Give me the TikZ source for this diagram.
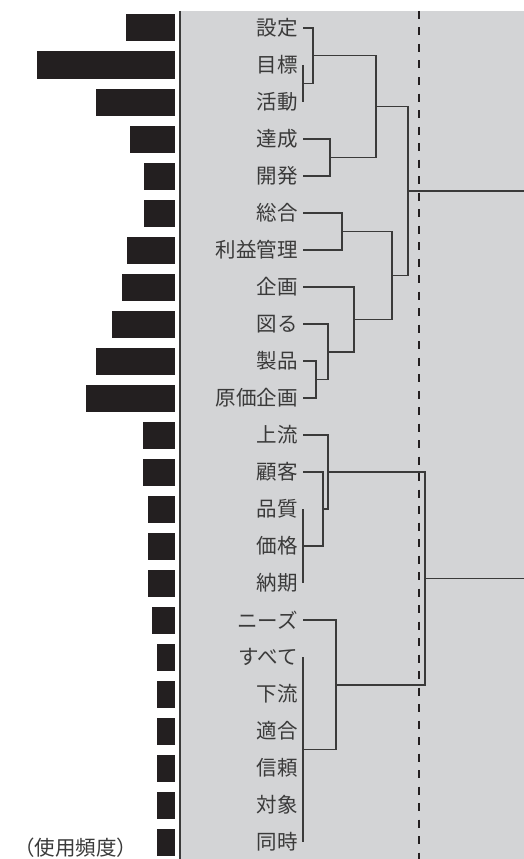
\documentclass[tikz,border=0pt]{standalone}
\usepackage{fontspec}
\setmainfont{Noto Sans CJK JP}
\usepackage{tikz}
\definecolor{panelgray}{RGB}{211,212,214}
\definecolor{inkgray}{RGB}{58,58,58}
\definecolor{barblack}{RGB}{35,31,32}
\tikzstyle{word} = [anchor=east, inner xsep=5pt, inner ysep=0pt, text=inkgray, font=\fontsize{20.5}{24}\selectfont]
\tikzstyle{freqbar} = [anchor=east, inner sep=0pt, minimum height=27pt, fill=barblack]
\tikzstyle{link} = [line width=1.4pt, draw=inkgray]
\tikzstyle{cutline} = [line width=1.8pt, draw=barblack, dash pattern=on 8pt off 8.5pt]

\begin{document}
\begin{tikzpicture}[x=1pt, y=-1pt]
  \useasboundingbox (0,0) rectangle (524,859);
  \fill [panelgray] (180,11) rectangle (524,859);
  \draw [line width=1.5pt, draw=inkgray] (180,11) -- (180,859);
  \draw [cutline] (419,11) -- (419,859);
  % words
  \node (settei) [word] at (303,28) {設定};
  \node (mokuhyo) [word] at (303,65) {目標};
  \node (katsudo) [word] at (303,102) {活動};
  \node (tassei) [word] at (303,139) {達成};
  \node (kaihatsu) [word] at (303,176) {開発};
  \node (sogo) [word] at (303,213) {総合};
  \node (rieki) [word] at (303,250) {利益管理};
  \node (kikaku) [word] at (303,287) {企画};
  \node (hakaru) [word] at (303,324) {図る};
  \node (seihin) [word] at (303,361) {製品};
  \node (genka) [word] at (303,398) {原価企画};
  \node (joryu) [word] at (303,435) {上流};
  \node (kokyaku) [word] at (303,472) {顧客};
  \node (hinshitsu) [word] at (303,509) {品質};
  \node (kakaku) [word] at (303,546) {価格};
  \node (noki) [word] at (303,583) {納期};
  \node (needs) [word] at (303,620) {ニーズ};
  \node (subete) [word] at (303,657) {すべて};
  \node (karyu) [word] at (303,694) {下流};
  \node (tekigo) [word] at (303,731) {適合};
  \node (shinrai) [word] at (303,768) {信頼};
  \node (taisho) [word] at (303,805) {対象};
  \node (doji) [word] at (303,842) {同時};
  \node (freq) [word, anchor=center, inner xsep=0pt] at (75.5,848) {（使用頻度）};
  % frequency bars
  \node (bsettei) [freqbar, minimum width=49pt] at (175,28) {};
  \node (bmokuhyo) [freqbar, minimum width=138pt] at (175,65) {};
  \node (bkatsudo) [freqbar, minimum width=79pt] at (175,102) {};
  \node (btassei) [freqbar, minimum width=45pt] at (175,139) {};
  \node (bkaihatsu) [freqbar, minimum width=31pt] at (175,176) {};
  \node (bsogo) [freqbar, minimum width=31pt] at (175,213) {};
  \node (brieki) [freqbar, minimum width=48pt] at (175,250) {};
  \node (bkikaku) [freqbar, minimum width=53pt] at (175,287) {};
  \node (bhakaru) [freqbar, minimum width=63pt] at (175,324) {};
  \node (bseihin) [freqbar, minimum width=79pt] at (175,361) {};
  \node (bgenka) [freqbar, minimum width=89pt] at (175,398) {};
  \node (bjoryu) [freqbar, minimum width=32pt] at (175,435) {};
  \node (bkokyaku) [freqbar, minimum width=32pt] at (175,472) {};
  \node (bhinshitsu) [freqbar, minimum width=27pt] at (175,509) {};
  \node (bkakaku) [freqbar, minimum width=27pt] at (175,546) {};
  \node (bnoki) [freqbar, minimum width=27pt] at (175,583) {};
  \node (bneeds) [freqbar, minimum width=23pt] at (175,620) {};
  \node (bsubete) [freqbar, minimum width=18pt] at (175,657) {};
  \node (bkaryu) [freqbar, minimum width=18pt] at (175,694) {};
  \node (btekigo) [freqbar, minimum width=18pt] at (175,731) {};
  \node (bshinrai) [freqbar, minimum width=18pt] at (175,768) {};
  \node (btaisho) [freqbar, minimum width=18pt] at (175,805) {};
  \node (bdoji) [freqbar, minimum width=18pt] at (175,842) {};
  % junctions
  \coordinate (jA) at (303,83.5);
  \coordinate (jB) at (313,55.8);
  \coordinate (jC) at (330,157.5);
  \coordinate (jD) at (376,106.6);
  \coordinate (jE) at (342,231.5);
  \coordinate (jF) at (316,379.5);
  \coordinate (jG) at (328,351.8);
  \coordinate (jH) at (354,319.4);
  \coordinate (jI) at (392,275.4);
  \coordinate (jJ) at (408,191);
  \coordinate (upper) at (524,191);
  \coordinate (jL) at (323,509);
  \coordinate (jM) at (328,472);
  \coordinate (jN) at (303,749.5);
  \coordinate (jO) at (336,684.8);
  \coordinate (jP) at (425,578.4);
  \coordinate (lower) at (524,578.4);
  % upper cluster
  \draw [link] (mokuhyo.east) -- (katsudo.east);
  \draw [link] (settei.east) -| (jB) |- (jA);
  \draw [link] (tassei.east) -| (jC) |- (kaihatsu.east);
  \draw [link] (jB) -| (jD) |- (jC);
  \draw [link] (sogo.east) -| (jE) |- (rieki.east);
  \draw [link] (seihin.east) -| (jF) |- (genka.east);
  \draw [link] (hakaru.east) -| (jG) |- (jF);
  \draw [link] (kikaku.east) -| (jH) |- (jG);
  \draw [link] (jE) -| (jI) |- (jH);
  \draw [link] (jD) -| (jJ) |- (jI);
  \draw [link] (jJ) -- (upper);
  % lower cluster
  \draw [link] (hinshitsu.east) -- (noki.east);
  \draw [link] (kokyaku.east) -| (jL) |- (kakaku.east);
  \draw [link] (joryu.east) -| (jM) |- (jL);
  \draw [link] (subete.east) -- (doji.east);
  \draw [link] (needs.east) -| (jO) |- (jN);
  \draw [link] (jM) -| (jP) |- (jO);
  \draw [link] (jP) -- (lower);
\end{tikzpicture}
\end{document}
